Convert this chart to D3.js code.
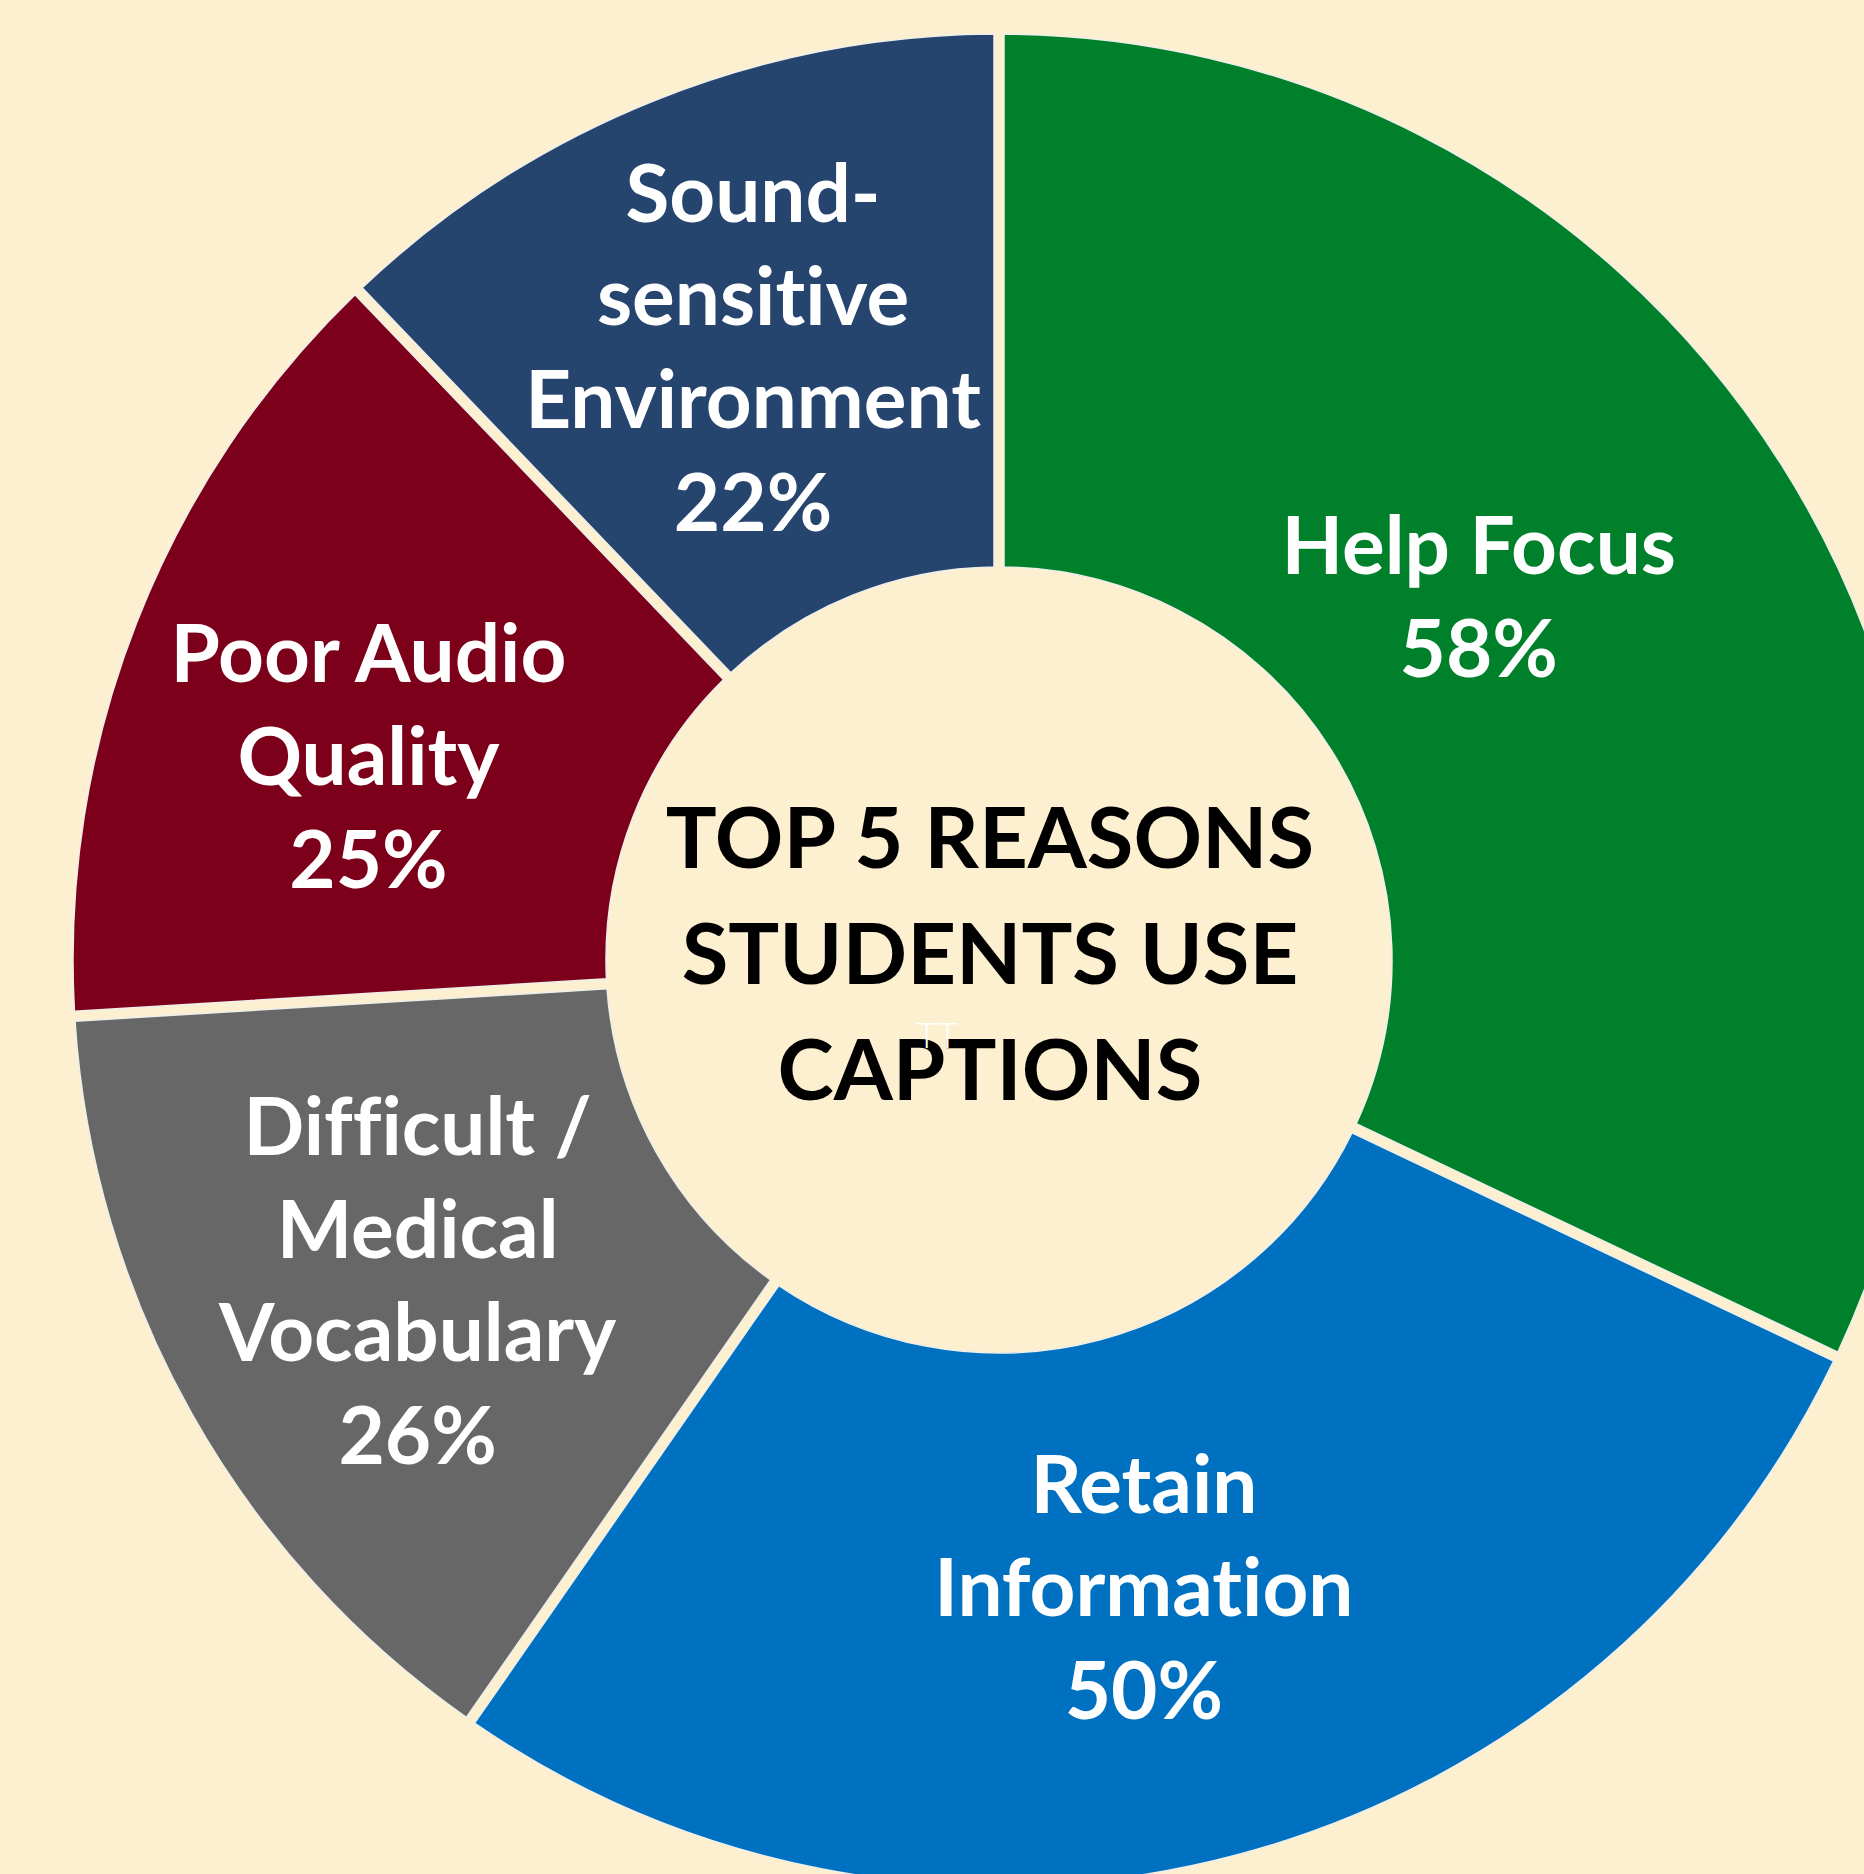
<!DOCTYPE html>
<html>
<head>
<meta charset="utf-8">
<script src="https://cdn.jsdelivr.net/npm/d3@7"></script>
<style>
  html, body { margin: 0; padding: 0; background: #fdf0d0; overflow: hidden; }
  text { font-family: Lato, "Open Sans", sans-serif; font-weight: bold; font-variant-ligatures: none; font-feature-settings: "liga" 0, "clig" 0; }
</style>
</head>
<body>
<svg id="chart"></svg>
<script>
// chart data
const categories = ["Help Focus", "Retain Information", "Difficult / Medical Vocabulary", "Poor Audio Quality", "Sound-sensitive Environment"];
const labelLines = [["Help Focus"], ["Retain", "Information"], ["Difficult /", "Medical", "Vocabulary"], ["Poor Audio", "Quality"], ["Sound-", "sensitive", "Environment"]];
const values = [58, 50, 26, 25, 22];
const colors = ["#00802a", "#0070c0", "#666766", "#7d001b", "#25446e"];
const titleLines = ["TOP 5 REASONS", "STUDENTS USE", "CAPTIONS"];

const W = 1864, H = 1874;
const cx = 999, cy = 960;
const outerR = 926, innerR = 393, labelR = 660;

// small nudges so labels sit where the original put them
const nudge = {
  "Help Focus": [-78, -10],
  "Retain Information": [-25, -11],
  "Difficult / Medical Vocabulary": [-6, -3],
  "Poor Audio Quality": [-16, 37],
  "Sound-sensitive Environment": [0, 0]
};

const svg = d3.select("#chart").attr("width", W).attr("height", H);
svg.append("rect").attr("width", W).attr("height", H).attr("fill", "#fdf0d0");

const g = svg.append("g").attr("transform", "translate(" + cx + "," + cy + ")");

const pie = d3.pie().sort(null).value(d => d.v);
const arcs = pie(categories.map((c, i) => ({ c: c, v: values[i], lines: labelLines[i], color: colors[i] })));

const arc = d3.arc()
  .innerRadius(innerR)
  .outerRadius(outerR)
  .padAngle(10 / outerR)
  .padRadius(outerR);

const labelArc = d3.arc().innerRadius(labelR).outerRadius(labelR);

g.selectAll("path.slice")
  .data(arcs)
  .enter()
  .append("path")
  .attr("class", "slice")
  .attr("d", arc)
  .attr("fill", d => d.data.color)
  .attr("stroke", "#eeeeea")
  .attr("stroke-width", 1.5);

const fs = 80, lh = 103;
const labels = g.selectAll("g.lbl")
  .data(arcs)
  .enter()
  .append("g")
  .attr("class", "lbl")
  .attr("transform", d => {
    let p = labelArc.centroid(d), n = nudge[d.data.c] || [0, 0];
    return "translate(" + (p[0] + n[0]) + "," + (p[1] + n[1]) + ")";
  });

labels.each(function (d) {
  let lines = d.data.lines.concat([d.data.v + "%"]);
  let y0 = -(lines.length - 1) * lh / 2 + fs * 0.36;
  d3.select(this).selectAll("text")
    .data(lines)
    .enter()
    .append("text")
    .attr("x", 0)
    .attr("y", (t, i) => y0 + i * lh)
    .attr("text-anchor", "middle")
    .attr("font-size", fs + "px")
    .attr("fill", "#ffffff")
    .text(t => t);
});

// centre title
g.selectAll("text.title")
  .data(titleLines)
  .enter()
  .append("text")
  .attr("class", "title")
  .attr("x", -9)
  .attr("y", (t, i) => -92 + i * 116)
  .attr("text-anchor", "middle")
  .attr("font-size", "85px")
  .attr("fill", "#000000")
  .text(t => t);

// stray faint glyph in the original
g.append("text")
  .attr("x", -62)
  .attr("y", 88)
  .attr("text-anchor", "middle")
  .attr("font-size", "36px")
  .style("font-weight", "300")
  .attr("fill", "#ffffff")
  .text("TT");
</script>
</body>
</html>
